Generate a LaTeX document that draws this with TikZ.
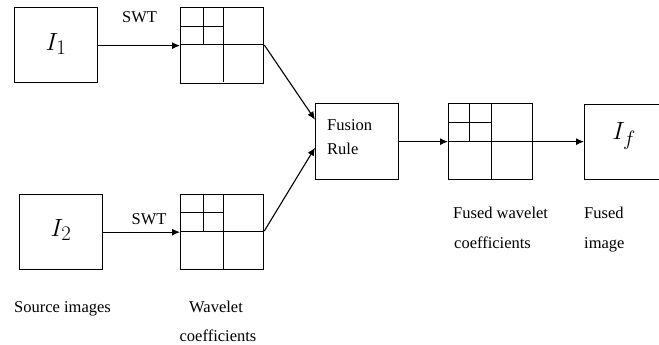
\documentclass[tikz,border=0pt]{standalone}
\usepackage{fontspec}
\setmainfont{Liberation Serif}
\usetikzlibrary{arrows.meta,calc}
\tikzset{
  box/.style={draw, line width=1.3pt, rectangle, inner sep=0pt, anchor=north west},
  grid/.style={line width=1pt},
  conn/.style={line width=1.1pt, -{Latex[length=8pt,width=7pt]}},
  lbl/.style={font=\fontsize{16.5}{18}\selectfont, inner sep=0pt},
  big/.style={font=\fontsize{30}{32}\selectfont, inner sep=0pt},
}
\begin{document}
\begin{tikzpicture}[x=1pt,y=-1pt]
\clip (0,0) rectangle (659,345);
% source images
\node[box, minimum width=83pt, minimum height=75pt] (i1) at (14,7) {};
\node[box, minimum width=83pt, minimum height=75pt] (i2) at (19,194) {};
\node[big] (t1) at (56,44) {$I_1$};
\node[big] (t2) at (61,230) {$I_2$};
% wavelet grids
\node[box, minimum width=83pt, minimum height=76pt] (g1) at (180,7) {};
\draw[grid] (223,7) -- (223,82) (180,45) -- (263,45) (203,7) -- (203,45) (180,27) -- (223,27);
\node[box, minimum width=83pt, minimum height=75pt] (g2) at (180,194) {};
\draw[grid] (223,194) -- (223,269) (180,231) -- (263,231) (203,194) -- (203,231) (180,212) -- (223,212);
% fusion rule
\node[box, minimum width=83pt, minimum height=76pt] (fu) at (315,103) {};
\node[lbl, anchor=base west] (fr1) at (327,130) {Fusion};
\node[lbl, anchor=base west] (fr2) at (327,154) {Rule};
% fused grid
\node[box, minimum width=84pt, minimum height=76pt] (g3) at (448,103) {};
\draw[grid] (491,103) -- (491,179) (448,141) -- (532,141) (469,103) -- (469,141) (448,122) -- (491,122);
% fused image
\node[box, minimum width=84pt, minimum height=75pt] (fi) at (584,104) {};
\node[big] (tf) at (624,136) {$I_f$};
% connectors
\draw[conn] (i1.east |- g1.center) -- (g1.west);
\draw[conn] (i2.east |- g2.center) -- (g2.west);
\node[lbl] (swt1) at (139.5,17) {SWT};
\node[lbl] (swt2) at (149,219) {SWT};
\draw[conn] (g1.east |- 0,45) -- ($(fu.west)+(0,-22)$);
\draw[conn] (g2.east |- 0,231) -- ($(fu.west)+(0,6)$);
\draw[conn] (fu.east) -- (g3.west);
\draw[conn] (g3.east) -- (fi.west |- g3.east);
% captions
\node[lbl, anchor=base west] (c1) at (14,312) {Source images};
\node[lbl, anchor=base] (c2) at (216,312) {Wavelet};
\node[lbl, anchor=base] (c3) at (218,341) {coefficients};
\node[lbl, anchor=base west] (c4) at (453,218) {Fused wavelet};
\node[lbl, anchor=base west] (c5) at (454,248) {coefficients};
\node[lbl, anchor=base west] (c6) at (584,218) {Fused};
\node[lbl, anchor=base west] (c7) at (584,248) {image};
\end{tikzpicture}
\end{document}
